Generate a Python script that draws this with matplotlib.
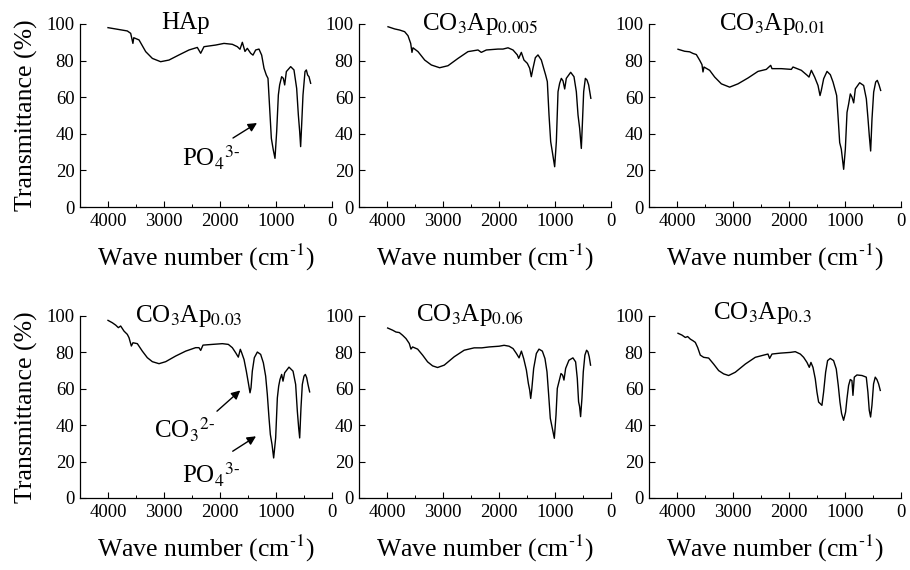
import matplotlib
matplotlib.use("Agg")
import matplotlib.pyplot as plt
from matplotlib.ticker import MultipleLocator

plt.rcParams['font.family'] = ['Liberation Serif', 'DejaVu Serif']
plt.rcParams['mathtext.fontset'] = 'stix'

# ---------------- data ----------------
titles = ['HAp', r'CO$_3$Ap$_{0.005}$', r'CO$_3$Ap$_{0.01}$',
          r'CO$_3$Ap$_{0.03}$', r'CO$_3$Ap$_{0.06}$', r'CO$_3$Ap$_{0.3}$']

wn_hap = [4000, 3655, 3595, 3555, 3540, 3446, 3327, 3208, 3060, 2911, 2732, 2554, 2405, 2345, 2286, 2077,
          1929, 1780, 1690, 1643, 1601, 1554, 1512, 1452, 1411, 1363, 1304, 1256, 1214, 1173, 1143, 1113,
          1083, 1048, 1018, 988, 958, 935, 899, 869, 845, 815, 738, 679, 631, 601, 577, 560, 542, 518,
          482, 458, 435, 411, 381]
t_hap = [98.0, 96.2, 94.9, 89.4, 92.5, 91.3, 84.9, 81.2, 79.4, 80.3, 83.1, 85.8, 87.2, 84.0, 87.6, 88.5,
         89.4, 88.9, 87.6, 86.2, 90.0, 85.0, 86.7, 84.0, 83.0, 85.8, 86.3, 83.0, 75.8, 72.1, 70.3, 53.9,
         37.5, 31.1, 26.6, 41.2, 61.2, 66.7, 71.2, 70.3, 66.7, 74.0, 76.7, 74.9, 64.8, 50.3, 41.2, 33.0,
         44.8, 61.2, 74.0, 74.9, 72.1, 71.2, 67.6]

wn_005 = [3982, 3863, 3774, 3685, 3625, 3577, 3554, 3536, 3446, 3327, 3208, 3060, 2911, 2732, 2554, 2375,
          2316, 2226, 2018, 1929, 1839, 1750, 1673, 1649, 1601, 1554, 1494, 1452, 1423, 1393, 1351, 1304,
          1244, 1202, 1167, 1137, 1107, 1077, 1048, 1006, 976, 946, 917, 887, 857, 827, 798, 720, 661,
          619, 589, 560, 530, 512, 488, 458, 429, 399, 360]
t_005 = [98.5, 97.3, 96.7, 95.8, 93.6, 89.4, 84.5, 87.0, 84.9, 80.3, 77.6, 76.1, 77.2, 81.2, 84.9, 85.8,
         84.5, 85.8, 86.3, 86.3, 87.0, 85.8, 83.1, 81.2, 84.5, 80.3, 78.5, 75.8, 71.2, 75.8, 81.6, 83.1,
         80.3, 75.8, 72.1, 68.5, 50.3, 35.7, 30.2, 22.0, 35.7, 63.0, 67.6, 70.3, 68.9, 64.5, 70.3, 73.6,
         71.2, 63.0, 50.3, 43.0, 32.0, 44.8, 63.0, 70.3, 69.4, 66.7, 59.4]

wn_01 = [3982, 3863, 3774, 3714, 3655, 3595, 3554, 3536, 3518, 3417, 3327, 3208, 3060, 2911, 2732, 2554,
         2405, 2327, 2304, 2137, 1958, 1929, 1780, 1673, 1643, 1601, 1542, 1482, 1446, 1423, 1381, 1321,
         1262, 1214, 1173, 1149, 1125, 1095, 1066, 1024, 994, 964, 935, 905, 875, 845, 815, 738, 667,
         619, 589, 566, 542, 518, 488, 452, 423, 393, 363]
t_01 = [86.2, 85.1, 84.8, 83.9, 83.3, 80.2, 77.8, 73.8, 76.5, 74.7, 71.0, 67.3, 65.5, 67.3, 70.5, 74.1,
        75.2, 77.4, 75.6, 75.6, 75.2, 76.5, 74.7, 71.9, 71.0, 74.7, 71.0, 66.4, 60.9, 63.7, 70.1, 74.1,
        72.3, 68.3, 63.7, 60.9, 49.9, 35.2, 31.6, 20.6, 31.6, 51.7, 56.3, 61.8, 60.0, 56.9, 64.6, 67.9,
        66.4, 59.1, 48.1, 38.9, 30.6, 48.1, 62.8, 68.3, 69.2, 66.8, 63.7]

wn_03 = [4000, 3923, 3863, 3815, 3774, 3714, 3655, 3625, 3583, 3554, 3476, 3387, 3298, 3208, 3089, 2970,
         2792, 2613, 2435, 2375, 2345, 2304, 2137, 1958, 1851, 1780, 1720, 1673, 1637, 1613, 1571, 1530,
         1494, 1464, 1446, 1423, 1387, 1333, 1274, 1226, 1185, 1155, 1125, 1101, 1071, 1042, 1006, 976,
         952, 929, 899, 875, 845, 768, 696, 649, 619, 595, 577, 554, 530, 500, 476, 452, 429, 399]
t_03 = [97.6, 96.3, 95.0, 93.6, 94.5, 91.7, 89.9, 88.1, 83.5, 85.3, 84.8, 80.7, 77.1, 74.9, 73.8, 74.9,
        78.0, 80.7, 82.6, 82.6, 81.1, 84.0, 84.4, 84.8, 84.4, 82.6, 79.8, 77.4, 81.7, 79.8, 76.1, 69.7,
        63.3, 57.8, 60.6, 69.7, 77.1, 80.2, 78.9, 74.3, 67.0, 56.9, 44.0, 34.9, 29.4, 22.0, 33.0, 55.0,
        61.5, 65.1, 67.9, 64.2, 68.8, 71.9, 69.7, 62.4, 47.7, 38.5, 33.0, 49.5, 62.4, 67.0, 67.9, 66.1,
        62.4, 58.3]

wn_06 = [3988, 3899, 3840, 3780, 3721, 3661, 3602, 3572, 3543, 3453, 3364, 3275, 3186, 3097, 2978, 2800,
         2622, 2444, 2307, 2176, 1998, 1909, 1820, 1749, 1689, 1642, 1600, 1559, 1511, 1476, 1452, 1434,
         1416, 1381, 1333, 1286, 1226, 1179, 1143, 1113, 1084, 1048, 1012, 982, 959, 929, 893, 864, 840,
         810, 751, 680, 632, 602, 579, 561, 543, 519, 495, 466, 436, 412, 389, 365]
t_06 = [93.4, 92.2, 91.2, 90.9, 89.4, 87.6, 84.9, 81.8, 83.0, 81.8, 78.5, 74.8, 72.6, 71.7, 73.0, 77.6,
        81.2, 82.5, 82.5, 83.0, 83.4, 83.9, 83.4, 82.1, 79.4, 77.0, 80.7, 76.6, 70.3, 63.0, 59.3, 54.7,
        59.3, 71.2, 79.4, 81.8, 80.7, 76.6, 69.3, 56.6, 43.8, 38.3, 32.8, 45.6, 60.2, 63.9, 68.4, 67.5,
        64.8, 71.2, 75.7, 77.0, 74.8, 65.7, 52.9, 50.2, 44.7, 54.7, 69.3, 78.5, 81.2, 80.3, 77.6, 73.0]

wn_3 = [3982, 3911, 3851, 3810, 3762, 3714, 3673, 3631, 3584, 3524, 3435, 3346, 3256, 3167, 3078, 2959,
        2780, 2602, 2453, 2376, 2346, 2304, 2155, 1977, 1888, 1798, 1739, 1679, 1638, 1608, 1572, 1531,
        1501, 1471, 1441, 1412, 1382, 1346, 1311, 1263, 1204, 1156, 1120, 1090, 1061, 1025, 989, 965,
        936, 906, 876, 858, 834, 787, 697, 620, 591, 567, 543, 519, 490, 460, 430, 400, 370]
t_3 = [90.5, 89.5, 88.2, 88.7, 87.3, 86.4, 85.5, 82.7, 78.5, 77.3, 76.9, 73.6, 70.0, 68.2, 67.3, 69.1,
       73.6, 77.3, 78.5, 79.1, 76.7, 79.1, 79.6, 80.0, 80.4, 79.1, 77.3, 74.5, 71.8, 74.5, 71.8, 65.5,
       58.2, 52.7, 51.8, 50.9, 58.2, 69.1, 75.5, 76.7, 75.5, 70.9, 61.8, 52.7, 46.4, 42.7, 47.3, 54.5,
       61.8, 65.1, 64.5, 56.4, 66.4, 67.6, 67.3, 66.4, 58.2, 48.2, 44.5, 50.9, 62.7, 66.4, 65.1, 62.7,
       59.1]

spectra = [(wn_hap, t_hap), (wn_005, t_005), (wn_01, t_01),
           (wn_03, t_03), (wn_06, t_06), (wn_3, t_3)]

x_ticks = [4000, 3000, 2000, 1000, 0]
y_ticks = [0, 20, 40, 60, 80, 100]

# ---------------- layout ----------------
W, H = 910, 570
fig = plt.figure(figsize=(W / 100, H / 100), dpi=100)
col_left = [80, 359, 649]
ax_w = 252
rows = [(24, 207), (316, 498)]
title_pos = [(0.417, 0.975), (0.48, 0.965), (0.49, 0.965),
             (0.43, 0.965), (0.44, 0.975), (0.45, 0.985)]

axes = []
for i, (wn, tr) in enumerate(spectra):
    r, c = divmod(i, 3)
    top, bot = rows[r]
    ax = fig.add_axes([col_left[c] / W, 1 - bot / H, ax_w / W, (bot - top) / H])
    ax.plot(wn, tr, color='black', lw=1.0)
    ax.set_xlim(4500, 0)
    ax.set_ylim(0, 100)
    ax.set_xticks(x_ticks)
    ax.set_yticks(y_ticks)
    ax.xaxis.set_minor_locator(MultipleLocator(500))
    ax.tick_params(axis='both', which='major', direction='in', length=4, width=0.8,
                   labelsize=13.5, pad=4)
    ax.tick_params(axis='x', which='minor', direction='in', length=2.5, width=0.7)
    for s in ['top', 'right']:
        ax.spines[s].set_visible(False)
    for s in ['left', 'bottom']:
        ax.spines[s].set_linewidth(0.9)
    ax.patch.set_alpha(0)
    ax.set_xlabel(r'Wave number (cm$^{\text{-1}}$)', fontsize=18.5, labelpad=9)
    if c == 0:
        ax.set_ylabel('Transmittance (%)', fontsize=18.5, labelpad=6)
    tx, ty = title_pos[i]
    ax.text(tx, ty, titles[i], transform=ax.transAxes, ha='center', va='baseline',
            fontsize=18)
    axes.append(ax)

# annotations
arrow = dict(arrowstyle='-|>', color='black', lw=1.0, mutation_scale=13,
             shrinkA=0, shrinkB=0)
axes[0].annotate('', xy=(1339, 45.9), xytext=(1768, 37.7), arrowprops=arrow)
axes[0].text(2161, 27.0, r'PO$_4$$^{3\text{-}}$', ha='center', va='center', fontsize=18)

axes[3].annotate('', xy=(1638, 59.1), xytext=(2054, 47.7), arrowprops=arrow)
axes[3].text(2643, 37.6, r'CO$_3$$^{2\text{-}}$', ha='center', va='center', fontsize=18)
axes[3].annotate('', xy=(1357, 33.9), xytext=(1773, 25.7), arrowprops=arrow)
axes[3].text(2161, 12.8, r'PO$_4$$^{3\text{-}}$', ha='center', va='center', fontsize=18)

fig.savefig('out.png', dpi=100, facecolor='white')
